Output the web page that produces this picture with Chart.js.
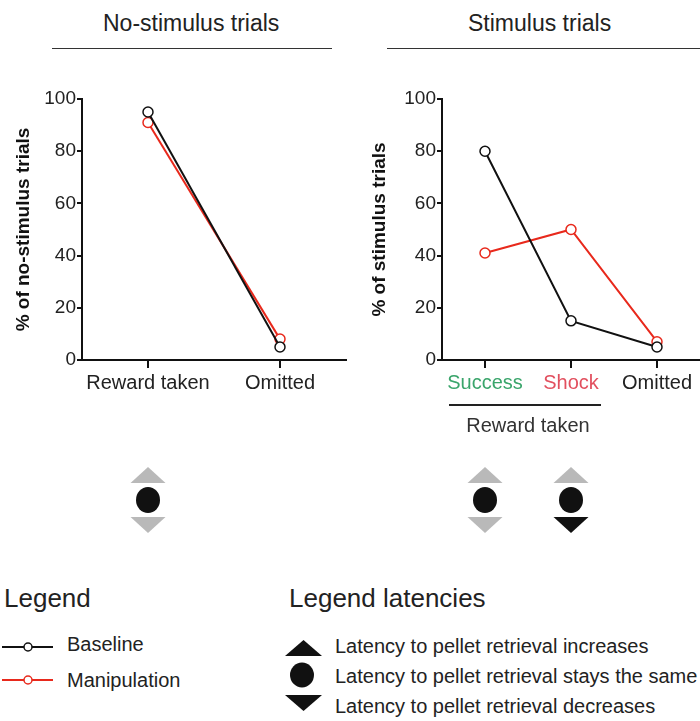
<!DOCTYPE html>
<html>
<head>
<meta charset="utf-8">
<script src="https://cdn.jsdelivr.net/npm/chart.js@4/dist/chart.umd.min.js"></script>
<style>
  html, body { margin: 0; padding: 0; background: #fff; }
  body { width: 700px; height: 721px; position: relative; overflow: hidden;
         font-family: 'Liberation Sans', Arial, Helvetica, sans-serif; color: #222; }
  .t { position: absolute; white-space: nowrap; line-height: 1; }
  canvas { position: absolute; }
  .rule { position: absolute; height: 0; border-top: 1.5px solid #333; }
</style>
</head>
<body>
<script>
// ---------------- data ----------------
const noStimCategories = ['Reward taken', 'Omitted'];
const noStimBaseline = [95, 5];
const noStimManipulation = [91, 8];

const stimCategories = ['Success', 'Shock', 'Omitted'];
const stimCategoryColors = ['#3aa56b', '#e2505f', '#222'];
const stimBaseline = [80, 15, 5];
const stimManipulation = [41, 50, 7];

const yTicks = [0, 20, 40, 60, 80, 100];

// latency indicators per category: which states are active (black); others grey
const noStimLatency = [['same'], []];
const stimLatency = [['same'], ['same', 'decrease'], []];

const seriesNames = ['Baseline', 'Manipulation'];
const seriesColors = ['#111111', '#e8291c'];
const latencyLegend = [
  'Latency to pellet retrieval increases',
  'Latency to pellet retrieval stays the same',
  'Latency to pellet retrieval decreases'
];
</script>

<div class="t" style="left:103px; top:12px; font-size:23px;">No-stimulus trials</div>
<div class="rule" style="left:52px; width:280px; top:48px;"></div>
<div class="t" style="left:468px; top:12px; font-size:23px;">Stimulus trials</div>
<div class="rule" style="left:387px; width:313px; top:48px;"></div>

<canvas id="c1" width="350" height="490" style="left:0; top:60px;"></canvas>
<canvas id="c2" width="350" height="490" style="left:350px; top:60px;"></canvas>

<!-- legends -->
<div class="t" style="left:4px; top:585px; font-size:26px;">Legend</div>
<svg width="60" height="60" style="position:absolute; left:0; top:630px;">
  <line x1="2" y1="17" x2="53" y2="17" stroke="#111" stroke-width="1.8"/>
  <circle cx="28" cy="17" r="4" fill="#fff" stroke="#111" stroke-width="1.5"/>
  <line x1="2" y1="50" x2="53" y2="50" stroke="#e8291c" stroke-width="1.8"/>
  <circle cx="28" cy="50" r="4" fill="#fff" stroke="#e8291c" stroke-width="1.5"/>
</svg>
<div class="t" id="lg0" style="left:67px; top:634px; font-size:20px;"></div>
<div class="t" id="lg1" style="left:67px; top:670px; font-size:20px;"></div>

<div class="t" style="left:289px; top:585px; font-size:26px;">Legend latencies</div>
<svg width="45" height="80" style="position:absolute; left:280px; top:636px;">
  <polygon points="5,20 42,20 23.5,4" fill="#111"/>
  <ellipse cx="22" cy="39" rx="12" ry="12.5" fill="#111"/>
  <polygon points="5,59 42,59 23.5,75" fill="#111"/>
</svg>
<div class="t" id="ll0" style="left:335px; top:636px; font-size:20px;"></div>
<div class="t" id="ll1" style="left:335px; top:666px; font-size:20px;"></div>
<div class="t" id="ll2" style="left:335px; top:696px; font-size:20px;"></div>

<script>
document.getElementById('lg0').textContent = seriesNames[0];
document.getElementById('lg1').textContent = seriesNames[1];
latencyLegend.forEach((s, i) => { document.getElementById('ll' + i).textContent = s; });

Chart.defaults.font.family = "'Liberation Sans', Arial, Helvetica, sans-serif";
Chart.defaults.color = '#222';

const latencyPlugin = {
  id: 'latency',
  afterDraw(chart, args, opts) {
    const ctx = chart.ctx;
    const xs = chart.scales.x;
    const grey = '#b9b9b9', black = '#111';
    ctx.save();
    (opts.states || []).forEach((st, i) => {
      if (!st || !st.length) return;
      const x = xs.getPixelForTick(i);
      const hw = 17.5;
      // up triangle
      ctx.fillStyle = st.includes('increase') ? black : grey;
      ctx.beginPath();
      ctx.moveTo(x - hw, 423); ctx.lineTo(x + hw, 423); ctx.lineTo(x, 407); ctx.closePath(); ctx.fill();
      // circle
      ctx.fillStyle = st.includes('same') ? black : grey;
      ctx.beginPath();
      ctx.ellipse(x, 440, 12, 13, 0, 0, Math.PI * 2); ctx.fill();
      // down triangle
      ctx.fillStyle = st.includes('decrease') ? black : grey;
      ctx.beginPath();
      ctx.moveTo(x - hw, 457); ctx.lineTo(x + hw, 457); ctx.lineTo(x, 473); ctx.closePath(); ctx.fill();
    });
    if (opts.bracket) {
      const a = xs.getPixelForTick(opts.bracket.from);
      const b = xs.getPixelForTick(opts.bracket.to);
      ctx.strokeStyle = '#222';
      ctx.lineWidth = 1.8;
      ctx.beginPath();
      ctx.moveTo(a - 36, 345); ctx.lineTo(b + 30, 345); ctx.stroke();
      ctx.fillStyle = '#333';
      ctx.font = "20px 'Liberation Sans', Arial, sans-serif";
      ctx.textAlign = 'center';
      ctx.textBaseline = 'alphabetic';
      ctx.fillText(opts.bracket.label, (a + b) / 2, 372);
    }
    ctx.restore();
  }
};

function makeChart(id, cats, base, manip, yTitle, yWidth, padRight, titlePad, tickColors, latency, bracket) {
  return new Chart(document.getElementById(id), {
    type: 'line',
    data: {
      labels: cats,
      datasets: [
        { label: seriesNames[0], data: base, borderColor: seriesColors[0], borderWidth: 2,
          pointRadius: 5, pointBorderWidth: 1.5, pointBackgroundColor: '#fff', pointBorderColor: seriesColors[0],
          tension: 0 },
        { label: seriesNames[1], data: manip, borderColor: seriesColors[1], borderWidth: 2,
          pointRadius: 5, pointBorderWidth: 1.5, pointBackgroundColor: '#fff', pointBorderColor: seriesColors[1],
          tension: 0 }
      ]
    },
    options: {
      responsive: false,
      animation: false,
      devicePixelRatio: 1,
      layout: { autoPadding: false, padding: { top: 39, right: padRight, bottom: 0, left: 0 } },
      plugins: {
        legend: { display: false },
        tooltip: { enabled: false },
        latency: { states: latency, bracket: bracket }
      },
      scales: {
        x: {
          type: 'category',
          offset: true,
          grid: { drawOnChartArea: false, drawTicks: true, tickLength: 8, color: '#111', lineWidth: 2 },
          border: { display: true, color: '#111', width: 2 },
          ticks: {
            font: { size: 20 },
            padding: 3,
            color: (c) => tickColors ? tickColors[c.index] : '#222',
            maxRotation: 0, autoSkip: false
          },
          afterFit: (s) => { s.height = 190; }
        },
        y: {
          min: 0, max: 100,
          afterBuildTicks: (s) => { s.ticks = yTicks.map(v => ({ value: v })); },
          grid: { drawOnChartArea: false, drawTicks: true, tickLength: 5, color: '#111', lineWidth: 2 },
          border: { display: true, color: '#111', width: 2 },
          ticks: { font: { size: 19 }, padding: 1, color: '#222' },
          title: { display: true, text: yTitle, font: { size: 19, weight: 'bold' }, color: '#111',
                   padding: { top: titlePad, bottom: 0 } },
          afterFit: (s) => { s.width = yWidth; }
        }
      }
    },
    plugins: [latencyPlugin]
  });
}

makeChart('c1', noStimCategories, noStimBaseline, noStimManipulation,
  '% of no-stimulus trials', 82, 4, 12, null, noStimLatency, null);
makeChart('c2', stimCategories, stimBaseline, stimManipulation,
  '% of stimulus trials', 92, 0, 18, stimCategoryColors, stimLatency,
  { from: 0, to: 1, label: 'Reward taken' });
</script>
</body>
</html>
